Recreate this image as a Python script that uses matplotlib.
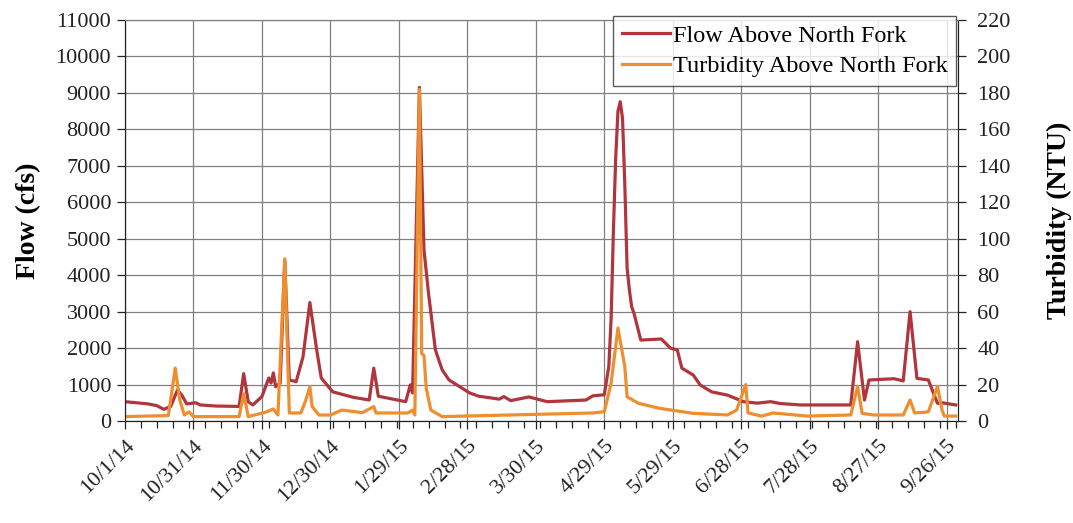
import numpy as np
import pandas as pd
import matplotlib
matplotlib.use("Agg")
import matplotlib.pyplot as plt
import matplotlib.dates as mdates

# Daily flow (cfs) above North Fork, read at the turning points of the hydrograph
flow_dates = ["2014-10-01", "2014-10-11", "2014-10-15", "2014-10-18", "2014-10-21",
              "2014-10-24", "2014-10-26", "2014-10-28", "2014-11-01", "2014-11-03",
              "2014-11-10", "2014-11-20", "2014-11-22", "2014-11-24", "2014-11-26",
              "2014-11-30", "2014-12-03", "2014-12-04", "2014-12-05", "2014-12-06",
              "2014-12-08", "2014-12-10", "2014-12-12", "2014-12-15", "2014-12-18",
              "2014-12-21", "2014-12-24", "2014-12-26", "2014-12-31", "2015-01-09",
              "2015-01-16", "2015-01-18", "2015-01-20", "2015-02-01", "2015-02-03",
              "2015-02-04", "2015-02-07", "2015-02-09", "2015-02-11", "2015-02-14",
              "2015-02-17", "2015-02-20", "2015-03-01", "2015-03-05", "2015-03-14",
              "2015-03-16", "2015-03-19", "2015-03-27", "2015-04-04", "2015-04-21",
              "2015-04-24", "2015-04-29", "2015-05-01", "2015-05-02", "2015-05-03",
              "2015-05-04", "2015-05-05", "2015-05-06", "2015-05-07", "2015-05-08",
              "2015-05-09", "2015-05-10", "2015-05-11", "2015-05-12", "2015-05-15",
              "2015-05-24", "2015-05-28", "2015-05-31", "2015-06-02", "2015-06-07",
              "2015-06-10", "2015-06-15", "2015-06-22", "2015-06-29", "2015-07-05",
              "2015-07-11", "2015-07-15", "2015-07-24", "2015-08-15", "2015-08-18",
              "2015-08-21", "2015-08-23", "2015-09-03", "2015-09-07", "2015-09-10",
              "2015-09-13", "2015-09-18", "2015-09-22", "2015-09-24", "2015-09-30"]
flow_cfs = [530, 470, 420, 320, 400,
            850, 700, 470, 500, 440,
            410, 400, 1300, 530, 440,
            670, 1180, 1040, 1320, 940,
            1040, 4400, 1125, 1080, 1760,
            3250, 1950, 1180, 800, 650,
            576, 1450, 680, 530, 990,
            770, 9150, 4700, 3500, 1950,
            1400, 1125, 770, 680, 600,
            670, 560, 660, 530, 576,
            690, 720, 1500, 2800, 5200,
            7200, 8500, 8760, 8300, 6500,
            4200, 3600, 3135, 2960, 2220,
            2250, 2000, 1950, 1450, 1260,
            990, 800, 710, 530, 490,
            530, 480, 440, 440, 2175,
            576, 1125, 1160, 1100, 3000,
            1170, 1125, 485, 500, 440]

# Turbidity (NTU) above North Fork
turb_dates = ["2014-10-01", "2014-10-20", "2014-10-23", "2014-10-25", "2014-10-27",
              "2014-10-29", "2014-10-31", "2014-11-20", "2014-11-22", "2014-11-24",
              "2014-12-02", "2014-12-05", "2014-12-07", "2014-12-10", "2014-12-12",
              "2014-12-17", "2014-12-19", "2014-12-21", "2014-12-22", "2014-12-25",
              "2014-12-30", "2015-01-04", "2015-01-13", "2015-01-18", "2015-01-19",
              "2015-02-02", "2015-02-04", "2015-02-05", "2015-02-07", "2015-02-08",
              "2015-02-09", "2015-02-10", "2015-02-12", "2015-02-17", "2015-04-24",
              "2015-04-29", "2015-05-02", "2015-05-05", "2015-05-08", "2015-05-09",
              "2015-05-14", "2015-05-23", "2015-06-07", "2015-06-22", "2015-06-26",
              "2015-06-30", "2015-07-01", "2015-07-07", "2015-07-12", "2015-07-27",
              "2015-08-15", "2015-08-18", "2015-08-20", "2015-08-25", "2015-09-07",
              "2015-09-10", "2015-09-12", "2015-09-18", "2015-09-22", "2015-09-24",
              "2015-09-25", "2015-09-30"]
turb_ntu = [2.4, 3, 29, 11.5, 3.3,
            5, 2.4, 2.4, 15, 2.4,
            5, 6.6, 3.3, 89, 4.4,
            4.4, 10.6, 18.8, 7.9, 3.3,
            3.3, 6, 4.6, 7.9, 4.4,
            4.4, 6, 3.3, 182, 37,
            36, 18, 6, 2.4, 4.4,
            5.1, 20.7, 51, 29.8, 13.3,
            9.7, 7, 4.2, 3.3, 6,
            20, 4.4, 2.7, 4.4, 2.7,
            3.3, 19, 4.2, 3.3, 3.3,
            11.5, 4.4, 5, 19, 6,
            2.7, 2.7]

flow_t = pd.to_datetime(flow_dates)
turb_t = pd.to_datetime(turb_dates)

# axis labels every 30 days, minor ticks weekly
major_days = pd.date_range("2014-10-01", periods=13, freq="30D")
minor_days = pd.date_range("2014-10-01", "2015-10-01", freq="7D")

plt.rcParams['font.family'] = ['Liberation Serif', 'DejaVu Serif']

red = "#B0353D"
orange = "#EE8E2E"
grid_col = "#808080"
ink = "#222222"

fig = plt.figure(figsize=(10.73, 5.23), dpi=100)
ax = fig.add_axes([125 / 1073, 1 - 421 / 523, (958 - 125) / 1073, (421 - 20) / 523])
ax2 = ax.twinx()

ax.plot(flow_t, flow_cfs, color=red, lw=2.3, label="Flow Above North Fork",
        solid_joinstyle="round")
ax2.plot(turb_t, turb_ntu, color=orange, lw=2.3, label="Turbidity Above North Fork",
         solid_joinstyle="round")

ax.set_xlim(pd.Timestamp("2014-10-01"), pd.Timestamp("2015-10-01"))
ax.set_ylim(0, 11000)
ax.set_yticks(np.arange(0, 11001, 1000))
ax2.set_ylim(0, 220)
ax2.set_yticks(np.arange(0, 221, 20))

def date_label(v, pos):
    d = mdates.num2date(v)
    return "{}/{}/{}".format(d.month, d.day, d.strftime("%y"))

ax.set_xticks(major_days)
ax.set_xticks(minor_days, minor=True)
ax.xaxis.set_major_formatter(matplotlib.ticker.FuncFormatter(date_label))
for lab in ax.get_xticklabels():
    lab.set_rotation(45)
    lab.set_ha("right")
    lab.set_rotation_mode("anchor")

ax.grid(True, which="major", color=grid_col, lw=0.9)
ax.set_axisbelow(True)

ax.tick_params(axis="x", which="major", direction="out", length=6, width=0.9,
               labelsize=16, colors=ink, pad=5)
ax.tick_params(axis="x", which="minor", direction="out", length=5, width=0.9,
               colors=ink)
ax.tick_params(axis="y", direction="out", length=6, width=0.9, labelsize=16,
               colors=ink, pad=4)
ax2.tick_params(axis="y", direction="out", length=6, width=0.9, labelsize=16,
                colors=ink, pad=8)
for a in (ax, ax2):
    for s in a.spines.values():
        s.set_color(grid_col)
    for side in ("left", "bottom", "right"):
        a.spines[side].set_color(ink)

ax.set_ylabel("Flow (cfs)", fontsize=20, fontweight="bold", labelpad=10)
ax2.set_ylabel("Turbidity (NTU)", fontsize=20, fontweight="bold", labelpad=26)

h1, l1 = ax.get_legend_handles_labels()
h2, l2 = ax2.get_legend_handles_labels()
leg = ax2.legend(h1 + h2, l1 + l2, loc="upper right",
                 bbox_to_anchor=(956 / 1073, 1 - 16 / 523), bbox_transform=fig.transFigure,
                 fontsize=17.5, frameon=True, fancybox=False, borderpad=0.35,
                 handlelength=2.0, handletextpad=0.1, labelspacing=0.35,
                 borderaxespad=0)
leg.get_frame().set_edgecolor("#333333")
leg.get_frame().set_linewidth(1.0)

fig.savefig("out.png", dpi=100)
